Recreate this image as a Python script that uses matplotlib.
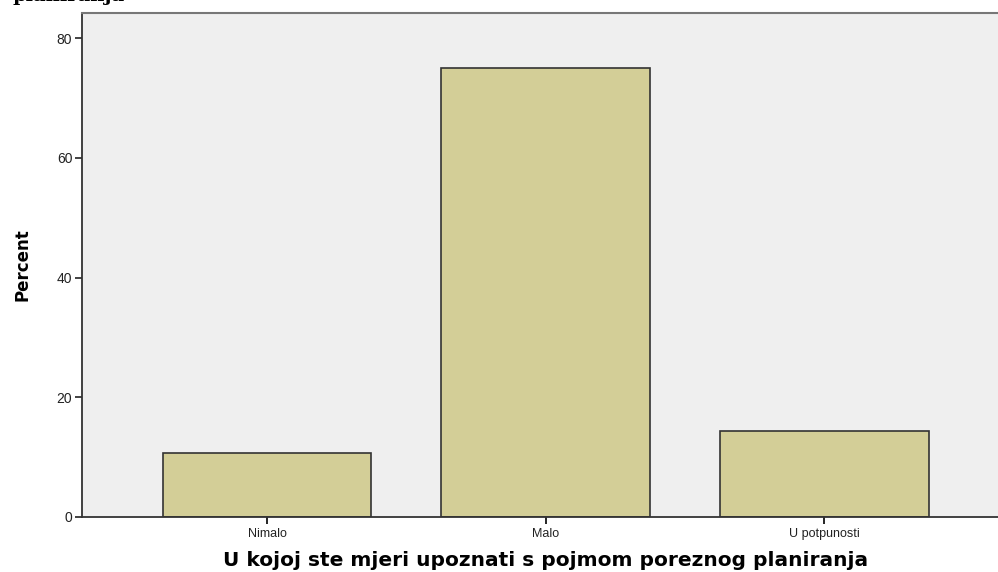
import matplotlib.pyplot as plt

categories = ["Nimalo", "Malo", "U potpunosti"]
percent = [10.7, 75.0, 14.3]
yticks = [0, 20, 40, 60, 80]

fig = plt.figure(figsize=(9.98, 5.72), dpi=100)
ax = fig.add_axes([0.0822, 0.0962, 0.929, 0.8811])
ax.set_facecolor("#efefef")

x = range(len(categories))
ax.bar(x, percent, width=0.75, color="#d3ce97", edgecolor="#333333", linewidth=1.2, zorder=2)

ax.set_xlim(-0.664, 2.664)
ax.set_ylim(0, 84.2)
ax.set_yticks(yticks)
ax.set_xticks(list(x))
ax.set_xticklabels(categories, fontsize=9, color="#222222", family="Liberation Sans")
ax.tick_params(axis="y", labelsize=10, colors="#222222", length=5, width=1.2, direction="out", pad=2)
for lbl in ax.get_yticklabels():
    lbl.set_family("Liberation Sans")
ax.tick_params(axis="x", length=5, width=1.2, direction="out", pad=3)

for side in ["left", "bottom"]:
    ax.spines[side].set_color("#333333")
    ax.spines[side].set_linewidth(1.3)
ax.spines["top"].set_color("#777777")
ax.spines["top"].set_linewidth(1.5)
ax.spines["right"].set_visible(False)

ax.set_ylabel("Percent", fontsize=12, fontweight="bold",
              family=["Liberation Sans Narrow", "DejaVu Sans Condensed", "DejaVu Sans"], labelpad=18)
ax.set_xlabel("U kojoj ste mjeri upoznati s pojmom poreznog planiranja",
              fontsize=14.5, fontweight="bold", labelpad=8)

# title cut off at the top edge
fig.text(125 / 998, 1 - 1 / 572, "planiranja", ha="right", va="baseline",
         fontsize=14, fontweight="bold", family="DejaVu Serif")

fig.savefig("out.png", dpi=100)
